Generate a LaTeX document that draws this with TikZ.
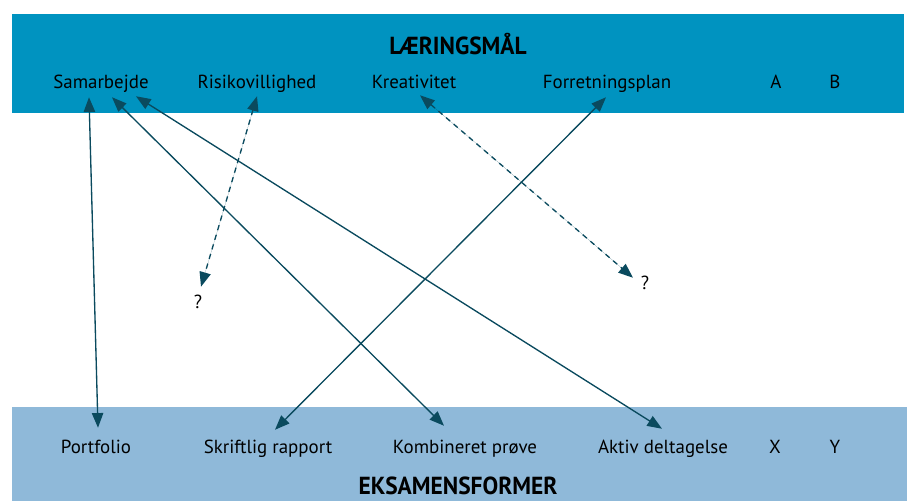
\documentclass[tikz,border=0pt]{standalone}
\usepackage{fontspec}
\setmainfont{PT Sans}
\newfontfamily\headfont[FakeStretch=0.95]{PT Sans}
\usepackage{xcolor}
\usetikzlibrary{calc}
\usetikzlibrary{arrows.meta}
\usetikzlibrary{positioning}
\definecolor{goalblue}{HTML}{0093C0}
\definecolor{examblue}{HTML}{8FB9D9}
\definecolor{linkteal}{HTML}{0A4A5E}

\tikzset{
  lbl/.style={font=\fontsize{14.2}{16}\selectfont, inner sep=0pt, text height=9.8pt, text depth=0pt, minimum height=22.5pt},
  exam/.style={lbl, minimum height=28.5pt},
  head/.style={font=\headfont\bfseries\fontsize{18.5}{22}\selectfont, inner sep=0pt},
  link/.style={{Triangle[length=11pt,width=8.5pt]}-{Triangle[length=11pt,width=8.5pt]}, draw=linkteal, fill=linkteal, line width=1pt},
  guess/.style={link, dash pattern=on 4pt off 3.5pt}
}

\begin{document}
\begin{tikzpicture}[x=0.75pt, y=-0.75pt]
  \useasboundingbox (0,0) rectangle (907,501);
  %--- Bands
    \fill[goalblue] (12,14) rectangle (904,113);
    \fill[examblue] (12,407) rectangle (907,501);
    \node[head] (goals) at (458,44) {LÆRINGSMÅL};
    \node[head] (forms) at (458,486) {EKSAMENSFORMER};
  %--- Learning goals
    \node[lbl] (sam) at (101,82) {Samarbejde};
    \node[lbl] (risk) at (257,82) {Risikovillighed};
    \node[lbl] (krea) at (414,82) {Kreativitet};
    \node[lbl] (forr) at (607,82) {Forretningsplan};
    \node[lbl] (ga) at (776,82) {A};
    \node[lbl] (gb) at (835,82) {B};
  %--- Exam forms
    \node[exam] (port) at (96,447) {Portfolio};
    \node[exam] (skrift) at (268,447) {Skriftlig rapport};
    \node[exam] (komb) at (465,447) {Kombineret prøve};
    \node[exam] (aktiv) at (663,447) {Aktiv deltagelse};
    \node[exam] (ex) at (775,447) {X};
    \node[exam] (ey) at (835,447) {Y};
  %--- Open ends
    \node[lbl] (q1) at (198,302) {?};
    \node[lbl] (q2) at (645,283) {?};
  %--- Links
    \draw[link] ($(sam.south)+(-12,0)$) -- ($(port.north)+(2,0)$);
    \draw[link] ($(sam.south)+(11,0)$) -- ($(komb.north)+(-21,-2)$);
    \draw[link] ($(sam.south)+(35,-1)$) -- ($(aktiv.north)+(-1,1)$);
    \draw[link] ($(forr.south)+(-1,0)$) -- ($(skrift.north)+(7,2)$);
    \draw[guess] ($(risk.south)+(0,-1)$) -- ($(q1.north)+(3,0)$);
    \draw[guess] ($(krea.south)+(6,-2)$) -- ($(q2.north)+(-12,10)$);
\end{tikzpicture}
\end{document}
